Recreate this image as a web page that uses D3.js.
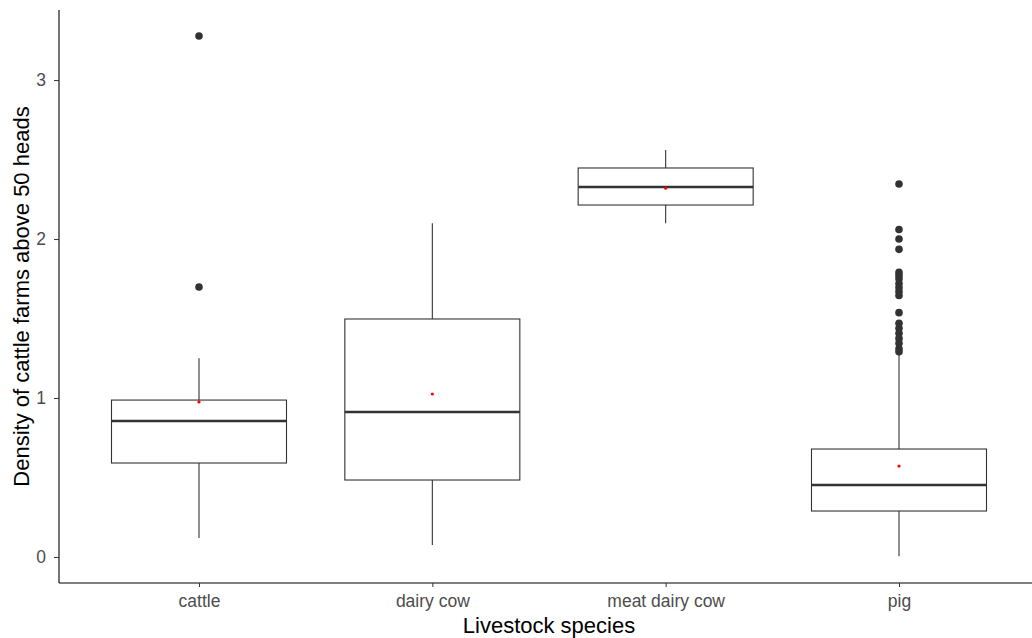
<!DOCTYPE html>
<html>
<head>
<meta charset="utf-8">
<script src="https://cdn.jsdelivr.net/npm/d3@7"></script>
<style>
  html, body { margin: 0; padding: 0; background: #fff; overflow: hidden; }
  svg { display: block; font-family: "Liberation Sans", Arial, sans-serif; }
</style>
</head>
<body>
<svg id="chart" width="1032" height="638"></svg>
<script>
// Livestock species on the x axis
const species = ["cattle", "dairy cow", "meat dairy cow", "pig"];

// Box summaries per species: lower whisker, Q1, median, Q3, upper whisker
const whiskerLow  = [0.12, 0.075, 2.10, 0.005];
const quartile1   = [0.591, 0.484, 2.214, 0.289];
const medians     = [0.855, 0.912, 2.327, 0.453];
const quartile3   = [0.987, 1.497, 2.447, 0.679];
const whiskerHigh = [1.25, 2.10, 2.56, 1.27];

// Group means (red dots)
const means = [0.975, 1.025, 2.32, 0.572];

// Outlying observations
const outliers = [
  [3.277, 1.698],
  [],
  [],
  [2.346, 2.06, 2.0, 1.935, 1.79, 1.77, 1.75, 1.72, 1.695, 1.67, 1.645,
   1.537, 1.47, 1.438, 1.407, 1.375, 1.344, 1.31, 1.291]
];

const yTicks = [0, 1, 2, 3];

const svg = d3.select("#chart");
// the panel runs slightly past the right edge of the window
const plot = { left: 59, right: 1039, top: 10, bottom: 583 };

// Discrete axis with 0.6 expansion on each side
const x = d3.scaleLinear()
  .domain([0.4, species.length + 0.6])
  .range([plot.left, plot.right]);
const unit = x(2) - x(1);
const boxW = unit * 0.75;

const allVals = whiskerLow.concat(whiskerHigh, outliers.flat());
const yMin = d3.min(allVals.concat([0])), yMax = d3.max(allVals);
const pad = (yMax - yMin) * 0.05;
const y = d3.scaleLinear()
  .domain([yMin - pad, yMax + pad])
  .range([plot.bottom, plot.top]);

const boxColor = "#333333";
const g = svg.append("g");

species.forEach((s, i) => {
  const cx = x(i + 1);
  // whiskers
  g.append("line")
    .attr("x1", cx).attr("x2", cx)
    .attr("y1", y(quartile3[i])).attr("y2", y(whiskerHigh[i]))
    .attr("stroke", boxColor).attr("stroke-width", 1.1);
  g.append("line")
    .attr("x1", cx).attr("x2", cx)
    .attr("y1", y(quartile1[i])).attr("y2", y(whiskerLow[i]))
    .attr("stroke", boxColor).attr("stroke-width", 1.1);
  // box
  g.append("rect")
    .attr("x", cx - boxW / 2).attr("width", boxW)
    .attr("y", y(quartile3[i])).attr("height", y(quartile1[i]) - y(quartile3[i]))
    .attr("fill", "#fff").attr("stroke", boxColor).attr("stroke-width", 1.1);
  // median
  g.append("line")
    .attr("x1", cx - boxW / 2).attr("x2", cx + boxW / 2)
    .attr("y1", y(medians[i])).attr("y2", y(medians[i]))
    .attr("stroke", boxColor).attr("stroke-width", 2.6);
  // outliers
  g.selectAll(null).data(outliers[i]).enter().append("circle")
    .attr("cx", cx).attr("cy", d => y(d)).attr("r", 3.8)
    .attr("fill", boxColor);
  // mean
  g.append("circle")
    .attr("cx", cx).attr("cy", y(means[i])).attr("r", 1.6)
    .attr("fill", "#ff0000");
});

// Y axis
const yAxis = svg.append("g")
  .attr("transform", `translate(${plot.left},0)`)
  .call(d3.axisLeft(y).tickValues(yTicks).tickFormat(d3.format("d")).tickSize(5).tickPadding(8));
yAxis.select(".domain").attr("d", `M0,${plot.top}V${plot.bottom}`).attr("stroke", "#000").attr("stroke-width", 1.1);
yAxis.selectAll(".tick line").attr("stroke", "#333");
yAxis.selectAll(".tick text").attr("fill", "#4d4d4d").style("font-size", "17.5px");

// X axis
const xAxis = svg.append("g")
  .attr("transform", `translate(0,${plot.bottom})`)
  .call(d3.axisBottom(x).tickValues(species.map((d, i) => i + 1))
    .tickFormat((d) => species[d - 1]).tickSize(4).tickPadding(8));
xAxis.select(".domain").attr("d", `M${plot.left},0H${plot.right}`).attr("stroke", "#000").attr("stroke-width", 1.1);
xAxis.selectAll(".tick line").attr("stroke", "#333");
xAxis.selectAll(".tick text").attr("fill", "#4d4d4d").style("font-size", "17.5px");

// Axis titles
svg.append("text")
  .attr("x", (plot.left + plot.right) / 2).attr("y", 633)
  .attr("text-anchor", "middle").style("font-size", "22px").attr("fill", "#000")
  .text("Livestock species");
svg.append("text")
  .attr("transform", `translate(29,${(plot.top + plot.bottom) / 2}) rotate(-90)`)
  .attr("text-anchor", "middle").style("font-size", "22px").attr("fill", "#000")
  .text("Density of cattle farms above 50 heads");
</script>
</body>
</html>
